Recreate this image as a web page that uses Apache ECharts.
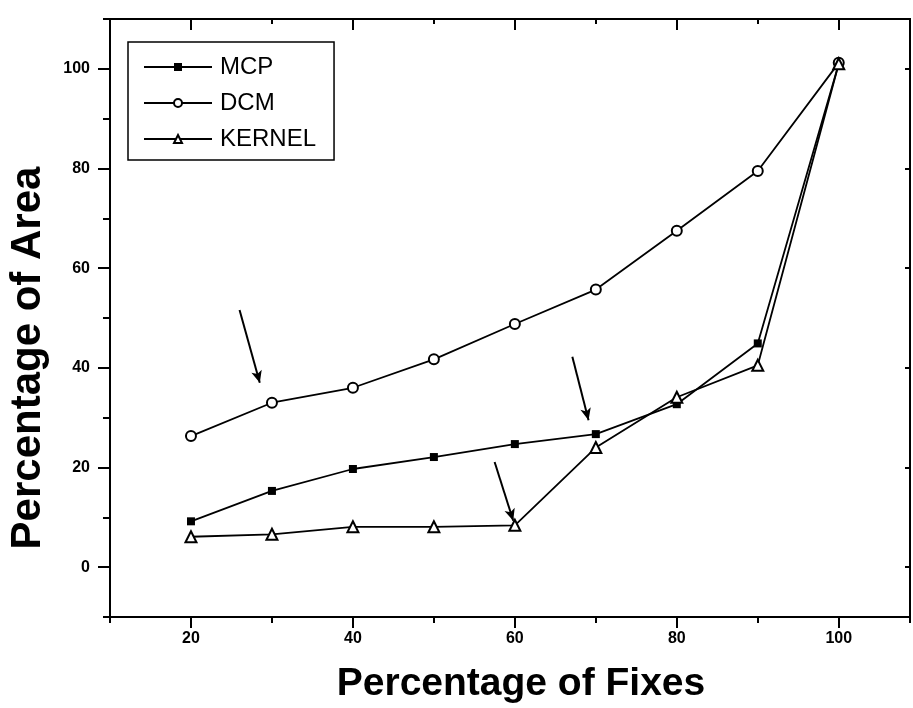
<!DOCTYPE html>
<html>
<head>
<meta charset="utf-8">
<script src="https://cdn.jsdelivr.net/npm/echarts@6/dist/echarts.min.js"></script>
<style>
html,body{margin:0;padding:0;background:#fff;}
#chart{width:913px;height:708px;}
</style>
</head>
<body>
<div id="chart"></div>
<script>
// Data
var fixes = [20, 30, 40, 50, 60, 70, 80, 90, 100];
var mcp = [9.2, 15.3, 19.7, 22.1, 24.7, 26.7, 32.7, 44.9, 101];
var dcm = [26.3, 33.0, 36.0, 41.7, 48.8, 55.7, 67.5, 79.5, 101.2];
var kernel = [6.1, 6.6, 8.1, 8.1, 8.4, 24.0, 34.1, 40.5, 101];
var seriesNames = ['MCP', 'DCM', 'KERNEL'];
var xMajorTicks = [20, 40, 60, 80, 100];
var yMajorTicks = [0, 20, 40, 60, 80, 100];
// annotation arrows (start -> end, data coordinates)
var arrows = [
  [[26.0, 51.6], [28.5, 37.0]],
  [[67.1, 42.2], [69.1, 29.5]],
  [[57.5, 21.1], [59.8, 9.3]]
];

function pairs(xs, ys) { return xs.map(function (x, i) { return [x, ys[i]]; }); }

var FONT = '"Liberation Sans", Arial, sans-serif';
var black = '#000';

var chart = echarts.init(document.getElementById('chart'), null, {renderer: 'canvas'});

function xAxisBase(pos) {
  return {
    type: 'value', position: pos, min: 10, max: 108.8, interval: 10,
    splitLine: {show: false}
  };
}
function yAxisBase(pos) {
  return {
    type: 'value', position: pos, min: -10, max: 110, interval: 10,
    splitLine: {show: false}
  };
}

var option = {
  backgroundColor: '#fff',
  animation: false,
  grid: {
    left: 110, right: 0, top: 19, bottom: 91,
    show: true, borderColor: black, borderWidth: 2, backgroundColor: 'transparent'
  },
  legend: {
    data: seriesNames,
    orient: 'vertical',
    left: 128, top: 42,
    padding: [13, 18, 9, 15],
    itemGap: 12,
    itemWidth: 68, itemHeight: 10,
    borderColor: black, borderWidth: 1.5,
    backgroundColor: '#fff',
    textStyle: {fontSize: 24, color: black, fontFamily: FONT, padding: [0, 0, 0, 3]},
    inactiveColor: black
  },
  xAxis: [
    Object.assign(xAxisBase('bottom'), {
      axisLine: {show: true, onZero: false, lineStyle: {color: black, width: 2}},
      axisTick: {show: true, length: 6, lineStyle: {color: black, width: 2}},
      axisLabel: {
        show: true, margin: 14, color: black, fontSize: 16, fontWeight: 'bold', fontFamily: FONT,
        formatter: function (v) { return (v % 20 === 0 && v >= 20 && v <= 100) ? String(v) : ''; }
      }
    }),
    Object.assign(xAxisBase('bottom'), {
      axisLine: {show: false, onZero: false},
      axisTick: {show: true, length: 11, customValues: xMajorTicks, lineStyle: {color: black, width: 2}},
      axisLabel: {show: false}
    }),
    Object.assign(xAxisBase('top'), {
      axisLine: {show: true, onZero: false, lineStyle: {color: black, width: 2}},
      axisTick: {show: true, inside: true, length: 5, lineStyle: {color: black, width: 2}},
      axisLabel: {show: false}
    }),
    Object.assign(xAxisBase('top'), {
      axisLine: {show: false, onZero: false},
      axisTick: {show: true, inside: true, length: 11, customValues: xMajorTicks, lineStyle: {color: black, width: 2}},
      axisLabel: {show: false}
    })
  ],
  yAxis: [
    Object.assign(yAxisBase('left'), {
      axisLine: {show: true, onZero: false, lineStyle: {color: black, width: 2}},
      axisTick: {show: true, length: 7, lineStyle: {color: black, width: 2}},
      axisLabel: {
        show: true, margin: 20, color: black, fontSize: 16, fontWeight: 'bold', fontFamily: FONT,
        formatter: function (v) { return (v % 20 === 0 && v >= 0 && v <= 100) ? String(v) : ''; }
      }
    }),
    Object.assign(yAxisBase('left'), {
      axisLine: {show: false, onZero: false},
      axisTick: {show: true, length: 12, customValues: yMajorTicks, lineStyle: {color: black, width: 2}},
      axisLabel: {show: false}
    }),
    Object.assign(yAxisBase('right'), {
      axisLine: {show: true, onZero: false, lineStyle: {color: black, width: 2}},
      axisTick: {show: true, inside: true, length: 5, customValues: yMajorTicks, lineStyle: {color: black, width: 2}},
      axisLabel: {show: false}
    })
  ],
  graphic: [
    {
      type: 'text', x: 521, y: 684, z: 10,
      style: {text: 'Percentage of Fixes', fill: black, font: 'bold 39px ' + FONT, textAlign: 'center', textVerticalAlign: 'middle'}
    },
    {
      type: 'text', x: 28, y: 358, rotation: Math.PI / 2, z: 10,
      style: {text: 'Percentage of Area', fill: black, font: 'bold 42px ' + FONT, textAlign: 'center', textVerticalAlign: 'middle'}
    }
  ],
  series: [
    {
      name: 'MCP', type: 'line', xAxisIndex: 0, yAxisIndex: 0,
      data: pairs(fixes, mcp),
      symbol: 'rect', symbolSize: 8,
      itemStyle: {color: black}, lineStyle: {color: black, width: 1.8}
    },
    {
      name: 'DCM', type: 'line', xAxisIndex: 0, yAxisIndex: 0,
      data: pairs(fixes, dcm),
      symbol: 'emptyCircle', symbolSize: 10,
      itemStyle: {color: black, borderWidth: 1.8}, lineStyle: {color: black, width: 1.8}
    },
    {
      name: 'KERNEL', type: 'line', xAxisIndex: 0, yAxisIndex: 0,
      data: pairs(fixes, kernel),
      symbol: 'emptyTriangle', symbolSize: 11,
      itemStyle: {color: black, borderWidth: 1.8}, lineStyle: {color: black, width: 1.8}
    },
    {
      name: 'arrows', type: 'line', xAxisIndex: 0, yAxisIndex: 0,
      data: [],
      markLine: {
        silent: true, animation: false,
        symbol: ['none', 'arrow'], symbolSize: [8, 12],
        label: {show: false},
        lineStyle: {type: 'solid', color: black, width: 2},
        emphasis: {disabled: true},
        data: arrows.map(function (a) { return [{coord: a[0]}, {coord: a[1]}]; })
      }
    }
  ]
};
chart.setOption(option);
</script>
</body>
</html>
